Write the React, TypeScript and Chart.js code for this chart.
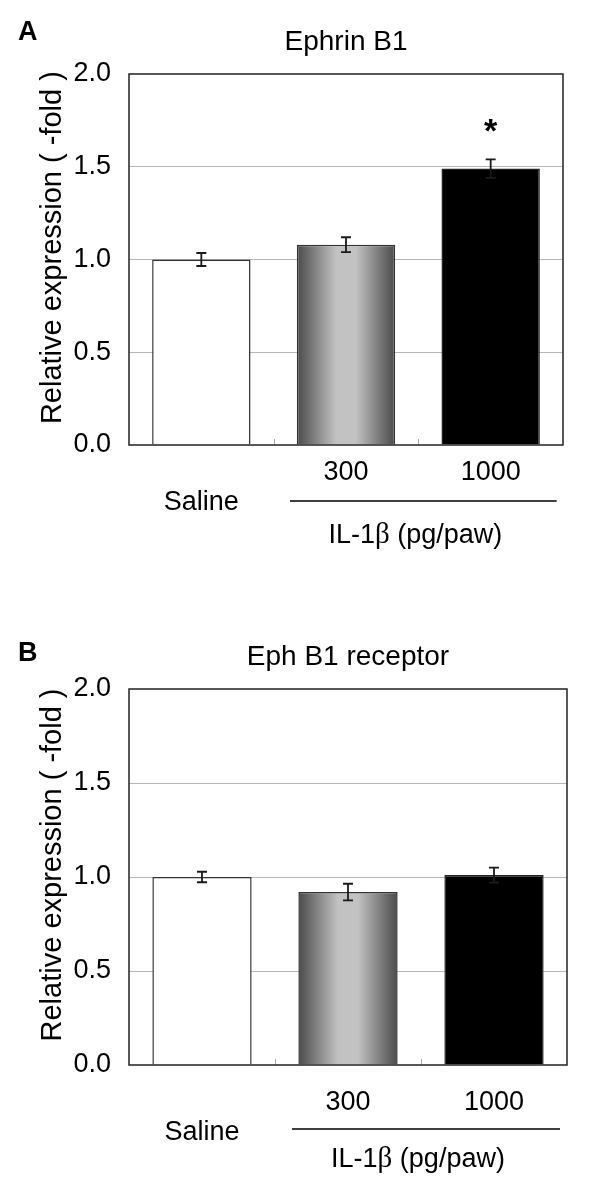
import React, { useEffect, useRef } from "react";
import { Chart, registerables } from "chart.js";

Chart.register(...registerables);

// ---------- data ----------
const categories: (string | string[])[] = [["", "Saline"], "300", "1000"];
const yTickValues = [0, 0.5, 1.0, 1.5, 2.0];
const ephrinValues = [1.0, 1.08, 1.49];
const ephrinErrors = [0.035, 0.04, 0.05];
const ephrinSignificant = [false, false, true];
const ephValues = [1.0, 0.92, 1.01];
const ephErrors = [0.028, 0.044, 0.04];
const ephSignificant = [false, false, false];
const panelTitles = ["Ephrin B1", "Eph B1 receptor"];
const panelLetters = ["A", "B"];
const yAxisTitle = "Relative expression ( -fold )";
const groupLabelParts = ["IL-1", "\u03B2", " (pg/paw)"];

const SANS = "'Liberation Sans', Arial, Helvetica, sans-serif";
const SERIF = "'Liberation Serif', 'DejaVu Serif', serif";
const BAR_PCT = 0.68;

type Panel = {
  title: string;
  letter: string;
  values: number[];
  errors: number[];
  significant: boolean[];
  top: number;
  right: number;
  bottom: number;
  tickPad: number;
  titleY: number;
  letterY: number;
  lineY: number;
  groupY: number;
};

const panels: Panel[] = [
  {
    title: panelTitles[0],
    letter: panelLetters[0],
    values: ephrinValues,
    errors: ephrinErrors,
    significant: ephrinSignificant,
    top: 74,
    right: 37,
    bottom: 47,
    tickPad: 13,
    titleY: 50,
    letterY: 40,
    lineY: 501,
    groupY: 543,
  },
  {
    title: panelTitles[1],
    letter: panelLetters[1],
    values: ephValues,
    errors: ephErrors,
    significant: ephSignificant,
    top: 97,
    right: 33,
    bottom: 19,
    tickPad: 23,
    titleY: 73,
    letterY: 69,
    lineY: 537,
    groupY: 575,
  },
];

function makePlugin(p: Panel) {
  return {
    id: "annotations",
    afterDatasetsDraw(chart: any) {
      const { ctx, chartArea: a, scales } = chart;
      const x = scales.x;
      const y = scales.y;
      ctx.save();
      // error bars
      ctx.strokeStyle = "#1a1a1a";
      ctx.lineWidth = 1.8;
      p.values.forEach((v, i) => {
        const cx = x.getPixelForValue(i);
        const yt = y.getPixelForValue(v + p.errors[i]);
        const yb = y.getPixelForValue(v - p.errors[i]);
        ctx.beginPath();
        ctx.moveTo(cx, yt);
        ctx.lineTo(cx, yb);
        ctx.moveTo(cx - 5, yt);
        ctx.lineTo(cx + 5, yt);
        ctx.moveTo(cx - 5, yb);
        ctx.lineTo(cx + 5, yb);
        ctx.stroke();
        if (p.significant[i]) {
          ctx.fillStyle = "#000";
          ctx.font = `bold 34px ${SANS}`;
          ctx.textAlign = "center";
          ctx.textBaseline = "alphabetic";
          ctx.fillText("*", cx, yt - 17);
        }
      });
      // small inner ticks at category boundaries
      ctx.strokeStyle = "#aaaaaa";
      ctx.lineWidth = 1;
      for (let i = 0; i < p.values.length - 1; i++) {
        const bx = Math.round((x.getPixelForValue(i) + x.getPixelForValue(i + 1)) / 2) + 0.5;
        ctx.beginPath();
        ctx.moveTo(bx, a.bottom);
        ctx.lineTo(bx, a.bottom - 6);
        ctx.stroke();
      }
      // plot box
      ctx.strokeStyle = "#222";
      ctx.lineWidth = 1.5;
      ctx.strokeRect(a.left, a.top, a.right - a.left, a.bottom - a.top);
      ctx.restore();
    },
    afterDraw(chart: any) {
      const { ctx, chartArea: a, scales } = chart;
      const x = scales.x;
      ctx.save();
      ctx.fillStyle = "#000";
      // panel letter
      ctx.font = `bold 27px ${SANS}`;
      ctx.textAlign = "left";
      ctx.textBaseline = "alphabetic";
      ctx.fillText(p.letter, 18, p.letterY);
      // title
      ctx.font = `28px ${SANS}`;
      ctx.textAlign = "center";
      ctx.fillText(p.title, (a.left + a.right) / 2, p.titleY);
      // y axis title
      ctx.save();
      ctx.translate(52.5, a.top + 0.468 * (a.bottom - a.top));
      ctx.rotate(-Math.PI / 2);
      ctx.textAlign = "center";
      ctx.textBaseline = "middle";
      ctx.font = `29px ${SANS}`;
      ctx.fillText(yAxisTitle, 0, 0);
      ctx.restore();
      // group line
      const x1 = x.getPixelForValue(1) - 56;
      const x2 = x.getPixelForValue(2) + 66;
      ctx.strokeStyle = "#000";
      ctx.lineWidth = 1.6;
      ctx.beginPath();
      ctx.moveTo(x1, p.lineY);
      ctx.lineTo(x2, p.lineY);
      ctx.stroke();
      // group label with serif beta
      const fonts = [`27px ${SANS}`, `29px ${SERIF}`, `27px ${SANS}`];
      const widths = groupLabelParts.map((t, i) => {
        ctx.font = fonts[i];
        return ctx.measureText(t).width;
      });
      const total = widths.reduce((s, w) => s + w, 0);
      let gx = (x1 + x2) / 2 - 8 - total / 2;
      ctx.textAlign = "left";
      ctx.textBaseline = "alphabetic";
      groupLabelParts.forEach((t, i) => {
        ctx.font = fonts[i];
        ctx.fillText(t, gx, p.groupY);
        gx += widths[i];
      });
      ctx.restore();
    },
  };
}

function PanelChart({ p }: { p: Panel }) {
  const ref = useRef<HTMLCanvasElement | null>(null);
  useEffect(() => {
    if (!ref.current) return;
    const chart = new Chart(ref.current, {
      type: "bar",
      data: {
        labels: categories as any,
        datasets: [
          {
            data: p.values,
            backgroundColor: (c: any) => {
              if (c.dataIndex === 0) return "#ffffff";
              if (c.dataIndex === 2) return "#000000";
              const ch = c.chart;
              const xs = ch.scales && ch.scales.x;
              if (!xs || !ch.chartArea) return "#999999";
              const cx = xs.getPixelForValue(1);
              const half = ((xs.right - xs.left) / categories.length) * BAR_PCT / 2;
              const g = ch.ctx.createLinearGradient(cx - half, 0, cx + half, 0);
              g.addColorStop(0, "#4a4a4a");
              g.addColorStop(0.4, "#c2c2c2");
              g.addColorStop(0.6, "#c2c2c2");
              g.addColorStop(1, "#4a4a4a");
              return g;
            },
            borderColor: ["#333333", "#333333", "#222222"],
            borderWidth: 1.5,
            barPercentage: BAR_PCT,
            categoryPercentage: 1.0,
          },
        ],
      },
      options: {
        responsive: false,
        animation: false,
        layout: { padding: { top: p.top, right: p.right, bottom: p.bottom, left: 0 } },
        plugins: { legend: { display: false }, tooltip: { enabled: false }, title: { display: false } },
        scales: {
          x: {
            type: "category",
            offset: true,
            grid: { display: false, drawTicks: false },
            border: { display: false },
            ticks: {
              color: "#000",
              font: { family: SANS, size: 27, lineHeight: 30 / 27 },
              padding: p.tickPad,
              maxRotation: 0,
              autoSkip: false,
            },
            afterFit: (s: any) => {
              s.height = 100;
            },
          },
          y: {
            min: 0,
            max: 2,
            grid: {
              drawTicks: false,
              lineWidth: 1,
              color: (c: any) =>
                c.tick && c.tick.value > 0 && c.tick.value < 2 ? "#b8b8b8" : "rgba(0,0,0,0)",
            },
            border: { display: false },
            ticks: {
              color: "#000",
              font: { family: SANS, size: 27 },
              padding: 18,
              callback: (v: any) => Number(v).toFixed(1),
            },
            afterBuildTicks: (s: any) => {
              s.ticks = yTickValues.map((v) => ({ value: v }));
            },
            afterFit: (s: any) => {
              s.width = 129;
            },
          },
        },
      },
      plugins: [makePlugin(p)],
    } as any);
    return () => chart.destroy();
  }, [p]);
  return <canvas ref={ref} width={600} height={592} style={{ display: "block", width: 600, height: 592 }} />;
}

export default function App() {
  return (
    <div style={{ position: "absolute", left: 0, top: 0, width: 600, height: 1184, background: "#fff" }}>
      {panels.map((p, i) => (
        <PanelChart key={i} p={p} />
      ))}
    </div>
  );
}
